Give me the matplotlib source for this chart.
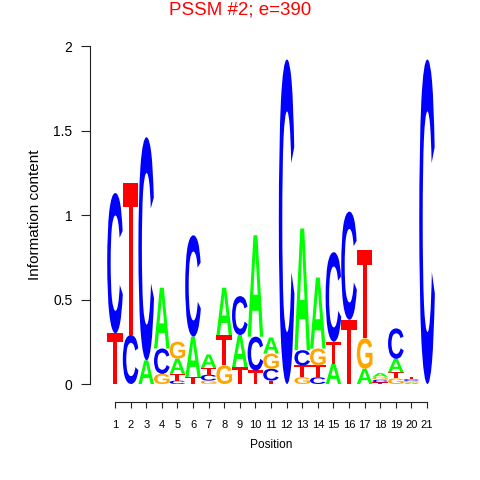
import matplotlib
matplotlib.use('Agg')
import matplotlib.pyplot as plt
from matplotlib.textpath import TextPath
from matplotlib.patches import PathPatch
from matplotlib.font_manager import FontProperties
from matplotlib.transforms import Affine2D

# information content of each base at positions 1..21
positions = list(range(1, 22))
A = [0, 0, 0.14, 0.36, 0.09, 0.24, 0.08, 0.28, 0.19, 0.60, 0.095,
     0, 0.72, 0.42, 0.12, 0, 0.09, 0.022, 0.08, 0.008, 0]
C = [0.83, 0.29, 1.32, 0.15, 0.02, 0.60, 0.035, 0, 0.23, 0.20, 0.07,
     1.92, 0.09, 0.04, 0.53, 0.64, 0, 0.015, 0.18, 0.011, 1.92]
G = [0, 0, 0, 0.06, 0.10, 0, 0.02, 0.11, 0, 0, 0.09,
     0, 0.04, 0.10, 0, 0, 0.18, 0.018, 0.033, 0.010, 0]
T = [0.30, 0.90, 0, 0, 0.04, 0.04, 0.04, 0.18, 0.10, 0.08, 0.02,
     0, 0.07, 0.07, 0.13, 0.38, 0.52, 0.010, 0.036, 0.012, 0]
base_colors = {'A': '#00FF00', 'C': '#0000FF', 'G': '#FFA500', 'T': '#FF0000'}

plt.rcParams['font.family'] = ['Liberation Sans', 'DejaVu Sans']
letter_font = FontProperties(family='Liberation Sans', weight='bold')


def draw_letter(ax, letter, x, y0, h, w=1.0):
    tp = TextPath((0, 0), letter, size=1, prop=letter_font)
    bb = tp.get_extents()
    tr = (Affine2D().translate(-bb.x0, -bb.y0)
          .scale(w / bb.width, h / bb.height)
          .translate(x - w / 2, y0))
    ax.add_patch(PathPatch(tr.transform_path(tp), facecolor=base_colors[letter],
                           edgecolor='none'))


fig = plt.figure(figsize=(4.8, 4.8), dpi=100)
W = H = 480.0
# axes box in pixels: left 90, right 440, top 30, bottom 402
ax = fig.add_axes([90 / W, 1 - 402 / H, 350 / W, 372 / H])
ax.set_xlim(-0.6026, 21.83)
ax.set_ylim(-0.1065, 2.0947)

for i, p in enumerate(positions):
    stack = sorted([('A', A[i]), ('C', C[i]), ('G', G[i]), ('T', T[i])],
                   key=lambda t: t[1])
    y = 0.0
    for base, h in stack:
        if h > 0:
            draw_letter(ax, base, p, y, h)
            y += h

for s in ['top', 'right']:
    ax.spines[s].set_visible(False)
ax.spines['left'].set_bounds(0, 2)
ax.spines['bottom'].set_bounds(1, 21)
for s in ['left', 'bottom']:
    ax.spines[s].set_linewidth(0.8)
    ax.spines[s].set_color('#222222')

ax.set_xticks(positions)
ax.set_xticklabels([str(p) for p in positions], fontsize=8)
ax.set_yticks([0, 0.5, 1, 1.5, 2])
ax.set_yticklabels(['0', '0.5', '1', '1.5', '2'], fontsize=10)
ax.tick_params(axis='x', length=4.3, width=0.8, pad=8.5, color='#222222')
ax.tick_params(axis='y', length=6.2, width=0.8, pad=6.5, color='#222222')

fig.text(35 / W, 1 - 215 / H, 'Information content', rotation=90,
         ha='center', va='center', fontsize=11)
fig.text(271 / W, 1 - 445 / H, 'Position', ha='center', va='center', fontsize=8.6)
fig.text(0.5, 1 - 10 / H, 'PSSM #2; e=390', ha='center', va='center',
         fontsize=13.5, color='#FF0000')

fig.savefig('out.png', dpi=100)
